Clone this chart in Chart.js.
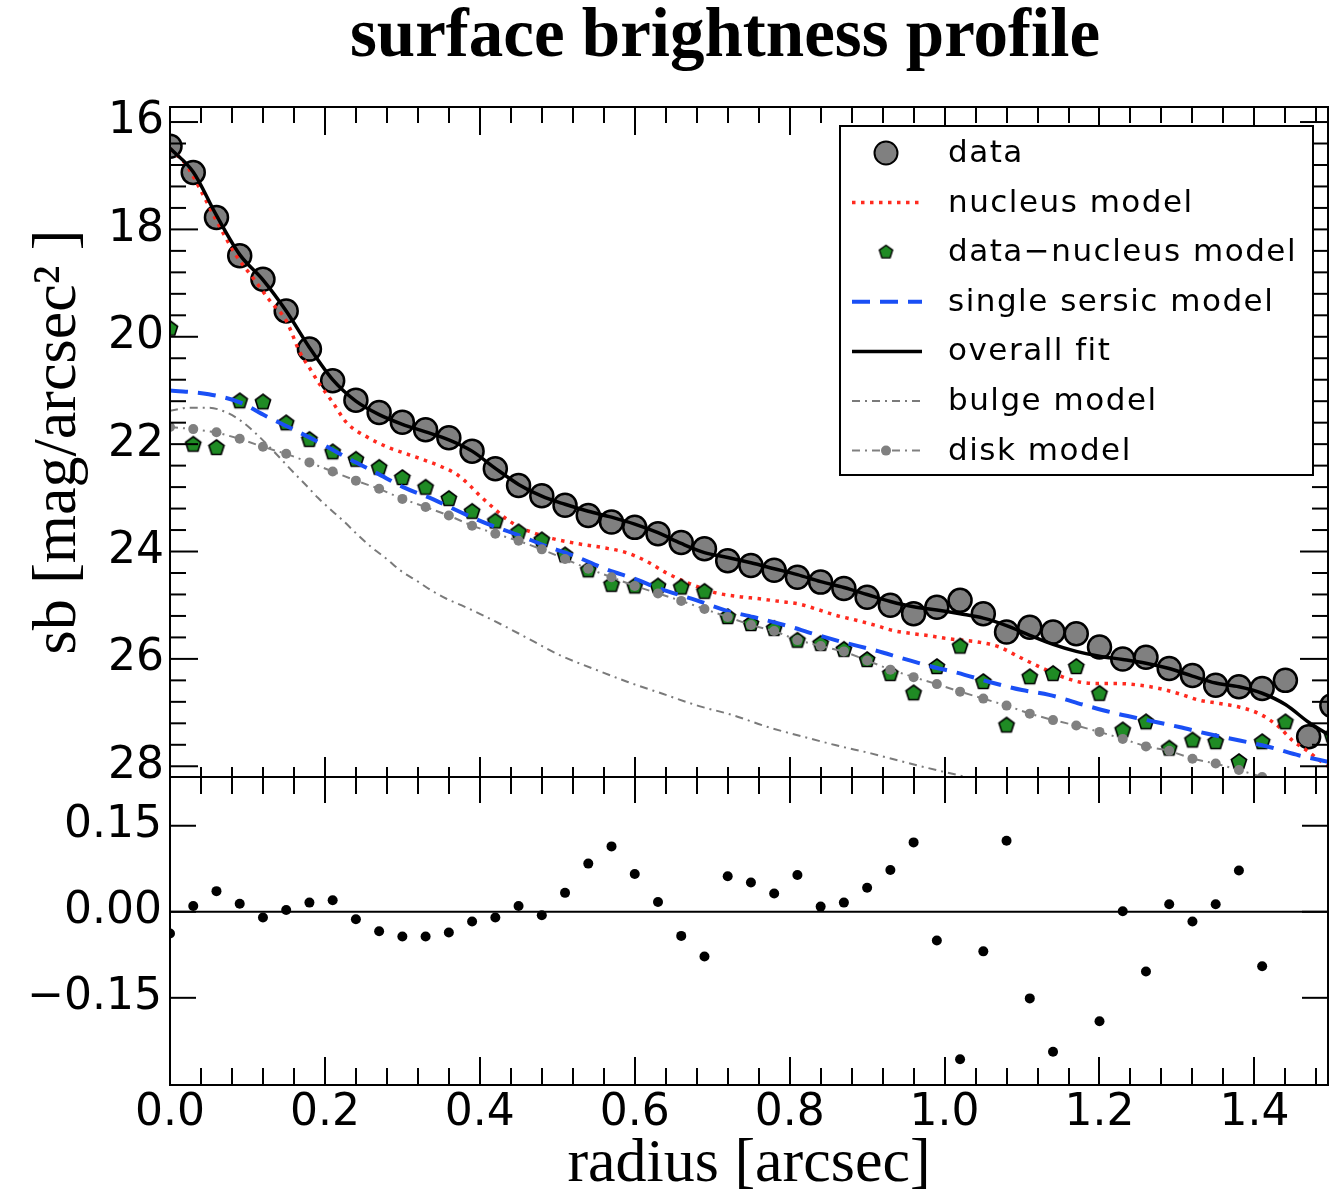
<!DOCTYPE html>
<html>
<head>
<meta charset="utf-8">
<title>surface brightness profile</title>
<script src="https://cdn.jsdelivr.net/npm/chart.js@4.4.1/dist/chart.umd.min.js"></script>
<style>
  html, body { margin: 0; padding: 0; background: #ffffff; }
  canvas { display: block; }
</style>
</head>
<body>
<canvas id="sbProfile" width="1342" height="1202"></canvas>
<script>
// ---- text ----
const chartTitle = 'surface brightness profile';
const xAxisTitle = 'radius [arcsec]';
const yAxisTitle = 'sb [mag/arcsec\u00B2 ]';

// ---- tick values and labels ----
const radiusTickValues = [0.0, 0.2, 0.4, 0.6, 0.8, 1.0, 1.2, 1.4];
const radiusTickLabels = ['0.0', '0.2', '0.4', '0.6', '0.8', '1.0', '1.2', '1.4'];
const sbTickValues = [16, 18, 20, 22, 24, 26, 28];
const sbTickLabels = ['16', '18', '20', '22', '24', '26', '28'];
const residualTickValues = [0.15, 0.0, -0.15];
const residualTickLabels = ['0.15', '0.00', '\u22120.15'];

// ---- measured profile (isophote radii in arcsec, sb in mag/arcsec^2) ----
const radius = [0.00, 0.03, 0.06, 0.09, 0.12, 0.15, 0.18, 0.21, 0.24, 0.27,
                0.30, 0.33, 0.36, 0.39, 0.42, 0.45, 0.48, 0.51, 0.54, 0.57,
                0.60, 0.63, 0.66, 0.69, 0.72, 0.75, 0.78, 0.81, 0.84, 0.87,
                0.90, 0.93, 0.96, 0.99, 1.02, 1.05, 1.08, 1.11, 1.14, 1.17,
                1.20, 1.23, 1.26, 1.29, 1.32, 1.35, 1.38, 1.41, 1.44, 1.47, 1.50];

const sbData = [16.45, 16.94, 17.78, 18.49, 18.93, 19.52, 20.23, 20.82, 21.18, 21.41,
                21.59, 21.73, 21.88, 22.13, 22.46, 22.77, 22.96, 23.14, 23.33, 23.45,
                23.55, 23.67, 23.83, 23.95, 24.17, 24.26, 24.35, 24.48, 24.57, 24.69,
                24.85, 25.00, 25.16, 25.04, 24.91, 25.16, 25.50, 25.41, 25.50, 25.53,
                25.78, 26.00, 25.97, 26.18, 26.31, 26.49, 26.52, 26.55, 26.40, 27.45, 26.87];

const sbDataMinusNucleus = [19.85, 22.01, 22.07, 21.20, 21.22, 21.61, 21.92, 22.15, 22.29, 22.44,
                            22.63, 22.81, 23.02, 23.26, 23.44, 23.64, 23.79, 24.07, 24.35, 24.62,
                            24.65, 24.65, 24.67, 24.75, 25.22, 25.35, 25.44, 25.66, 25.72, 25.83,
                            26.02, 26.28, 26.64, 26.15, 25.77, 26.43, 27.24, 26.34, 26.28, 26.15,
                            26.65, 27.33, 27.18, 27.67, 27.52, 27.55, 27.92, 27.55, 27.18, null, 27.43];

const sbOverallFit = [16.49, 16.93, 17.74, 18.47, 18.94, 19.52, 20.20, 20.80, 21.20, 21.45,
                      21.63, 21.77, 21.92, 22.13, 22.45, 22.75, 22.97, 23.12, 23.25, 23.36,
                      23.49, 23.65, 23.85, 24.02, 24.11, 24.21, 24.32, 24.43, 24.56, 24.67,
                      24.80, 24.93, 25.03, 25.09, 25.16, 25.24, 25.38, 25.56, 25.73, 25.86,
                      25.95, 26.01, 26.08, 26.18, 26.32, 26.45, 26.52, 26.64, 26.85, 27.18, 27.45];

const sbDisk = [21.68, 21.72, 21.78, 21.90, 22.05, 22.18, 22.34, 22.51, 22.68, 22.83,
                23.02, 23.17, 23.33, 23.52, 23.67, 23.80, 23.96, 24.14, 24.32, 24.48,
                24.64, 24.78, 24.92, 25.07, 25.22, 25.37, 25.48, 25.65, 25.76, 25.86,
                26.03, 26.20, 26.34, 26.47, 26.61, 26.74, 26.87, 27.02, 27.14, 27.24,
                27.36, 27.49, 27.63, 27.71, 27.86, 27.95, 28.07, 28.20];

// data minus overall fit (mag)
const residual = [-0.038, 0.010, 0.036, 0.014, -0.010, 0.003, 0.016, 0.020, -0.013, -0.034,
                  -0.043, -0.043, -0.036, -0.017, -0.010, 0.010, -0.006, 0.033, 0.084, 0.114,
                  0.066, 0.017, -0.042, -0.078, 0.062, 0.051, 0.032, 0.064, 0.009, 0.016,
                  0.042, 0.073, 0.121, -0.050, -0.257, -0.069, 0.124, -0.151, -0.244, null,
                  -0.191, 0.001, -0.104, 0.013, -0.017, 0.013, 0.072, -0.095, null, null, null];
const residualZero = 0;

// ---- model curves sampled on their own radii ----
const nucleusRadius = [0.000, 0.020, 0.037, 0.060, 0.086, 0.107, 0.129, 0.150, 0.168, 0.181,
                       0.193, 0.210, 0.228, 0.256, 0.280, 0.305, 0.331, 0.352, 0.370, 0.387,
                       0.400, 0.417, 0.434, 0.452, 0.473, 0.494, 0.529, 0.560, 0.589, 0.615,
                       0.641, 0.671, 0.705, 0.735, 0.761, 0.787, 0.813, 0.834, 0.860, 0.886,
                       0.912, 0.933, 0.959, 0.981, 1.002, 1.045, 1.071, 1.097, 1.123, 1.148,
                       1.174, 1.200, 1.226, 1.252, 1.277, 1.303, 1.329, 1.355, 1.381, 1.406,
                       1.432, 1.449, 1.467, 1.484, 1.500];
const nucleusSb = [16.50, 16.78, 17.20, 17.84, 18.50, 18.90, 19.33, 19.70, 20.30, 20.60,
                   20.88, 21.22, 21.60, 21.88, 22.05, 22.18, 22.31, 22.43, 22.56, 22.77,
                   22.96, 23.18, 23.39, 23.55, 23.67, 23.76, 23.86, 23.93, 24.02, 24.18,
                   24.40, 24.60, 24.77, 24.84, 24.88, 24.93, 24.98, 25.07, 25.19, 25.28,
                   25.38, 25.47, 25.53, 25.57, 25.62, 25.69, 25.78, 25.97, 26.15, 26.31,
                   26.43, 26.46, 26.46, 26.49, 26.55, 26.65, 26.77, 26.83, 26.90, 27.02,
                   27.27, 27.52, 27.70, 27.89, 28.05];

const sersicRadius = [0.000, 0.050, 0.090, 0.123, 0.157, 0.194, 0.232, 0.267, 0.301, 0.340,
                      0.374, 0.409, 0.447, 0.486, 0.520, 0.563, 0.602, 0.632, 0.680, 0.718,
                      0.753, 0.796, 0.830, 0.869, 0.910, 0.948, 0.985, 1.017, 1.058, 1.100,
                      1.135, 1.183, 1.222, 1.261, 1.303, 1.338, 1.381, 1.419, 1.458, 1.500];
const sersicSb = [21.00, 21.07, 21.22, 21.47, 21.71, 21.98, 22.28, 22.54, 22.80, 23.03,
                  23.26, 23.48, 23.68, 23.90, 24.07, 24.33, 24.52, 24.69, 24.91, 25.10,
                  25.22, 25.38, 25.53, 25.69, 25.84, 26.00, 26.15, 26.26, 26.43, 26.58,
                  26.67, 26.87, 27.02, 27.14, 27.27, 27.39, 27.52, 27.64, 27.80, 27.93];

const bulgeRadius = [0.000, 0.026, 0.050, 0.073, 0.092, 0.110, 0.135, 0.159, 0.176, 0.191,
                     0.209, 0.226, 0.243, 0.260, 0.280, 0.297, 0.318, 0.338, 0.357, 0.376,
                     0.400, 0.440, 0.470, 0.503, 0.546, 0.591, 0.636, 0.681, 0.727, 0.772,
                     0.815, 0.860, 0.905, 0.953, 0.998, 1.050];
const bulgeSb = [21.38, 21.32, 21.32, 21.41, 21.57, 21.79, 22.15, 22.52, 22.77, 23.00,
                 23.24, 23.46, 23.70, 23.92, 24.14, 24.35, 24.54, 24.73, 24.88, 25.00,
                 25.16, 25.45, 25.68, 25.93, 26.18, 26.43, 26.65, 26.87, 27.05, 27.27,
                 27.44, 27.61, 27.76, 27.94, 28.10, 28.27];

// ---- helpers ----
function pairs(xs, ys) {
  return ys.map((y, i) => ({ x: xs[i], y: y }));
}

function pentagonMarker(r, fill, edge, lw) {
  const size = Math.ceil(2 * r + 2 * lw + 2);
  const c = document.createElement('canvas');
  c.width = size; c.height = size;
  const g = c.getContext('2d');
  const cx = size / 2, cy = size / 2;
  g.beginPath();
  for (let i = 0; i < 5; i++) {
    const a = -Math.PI / 2 + i * 2 * Math.PI / 5;
    g.lineTo(cx + r * Math.cos(a), cy + r * Math.sin(a));
  }
  g.closePath();
  g.fillStyle = fill; g.fill();
  g.lineWidth = lw; g.strokeStyle = edge; g.stroke();
  return c;
}

const GREEN = '#1f8b24';
const pentagonPlot = pentagonMarker(8, GREEN, '#000', 1.6);
const pentagonLegend = pentagonMarker(7, GREEN, '#000', 1.4);

function tickLabel(values, labels) {
  return (v) => {
    const i = values.findIndex(t => Math.abs(t - v) < 1e-9);
    return i >= 0 ? labels[i] : '';
  };
}

// ---- plugins ----
// keep each dataset inside its own panel
const panelClip = {
  id: 'panelClip',
  beforeDatasetDraw(chart, args) {
    const ys = chart.scales[args.meta.yAxisID];
    const xs = chart.scales.x;
    const ctx = chart.ctx;
    ctx.save();
    ctx.beginPath();
    ctx.rect(xs.left, ys.top, xs.right - xs.left, ys.bottom - ys.top);
    ctx.clip();
  },
  afterDatasetDraw(chart) {
    chart.ctx.restore();
  }
};

// panel frames with inward ticks on all four sides
const panelFrame = {
  id: 'panelFrame',
  afterDatasetsDraw(chart) {
    const { ctx } = chart;
    const x = chart.scales.x;
    const panels = [
      { s: chart.scales.ySb, top: [28, 16], bottom: [20, 10], side: [28, 16],
        major: sbTickValues, minorStep: 0.4 },
      { s: chart.scales.yRes, top: [26, 17], bottom: [28, 17], side: [26, 0],
        major: residualTickValues, minorStep: 0 }
    ];
    ctx.save();
    ctx.strokeStyle = '#000';
    ctx.lineWidth = 2;
    ctx.lineCap = 'butt';
    const L = x.left, R = x.right;
    const line = (x0, y0, x1, y1) => { ctx.beginPath(); ctx.moveTo(x0, y0); ctx.lineTo(x1, y1); ctx.stroke(); };

    panels.forEach(p => {
      const T = p.s.top, B = p.s.bottom;
      // horizontal axis ticks (majors every 0.2, minors every 0.04)
      for (let i = 0; i * 0.04 <= x.max + 1e-9; i++) {
        const v = i * 0.04;
        const isMajor = Math.abs(v / 0.2 - Math.round(v / 0.2)) < 1e-6;
        const px = Math.round(x.getPixelForValue(v));
        line(px, T, px, T + (isMajor ? p.top[0] : p.top[1]));
        line(px, B, px, B - (isMajor ? p.bottom[0] : p.bottom[1]));
      }
      // vertical axis ticks
      p.major.forEach(v => {
        const py = p.s.getPixelForValue(v);
        line(L, py, L + p.side[0], py);
        line(R, py, R - p.side[0], py);
      });
      if (p.minorStep > 0) {
        const lo = Math.min(p.s.min, p.s.max), hi = Math.max(p.s.min, p.s.max);
        const first = Math.ceil(lo / p.minorStep - 1e-9);
        for (let k = first; k * p.minorStep <= hi + 1e-9; k++) {
          const v = k * p.minorStep;
          if (p.major.some(m => Math.abs(m - v) < 1e-6)) continue;
          const py = p.s.getPixelForValue(v);
          line(L, py, L + p.side[1], py);
          line(R, py, R - p.side[1], py);
        }
      }
      ctx.strokeRect(L, T, R - L, B - T);
    });
    ctx.restore();
  }
};

// framed legend in the upper right of the profile panel
const legendBox = {
  id: 'legendBox',
  afterDraw(chart) {
    const { ctx } = chart;
    const x = chart.scales.x, y = chart.scales.ySb;
    const w = 473, h = 349;
    const right = x.right - 15, top = y.top + 19, left = right - w;
    ctx.save();
    ctx.fillStyle = '#fff';
    ctx.fillRect(left, top, w, h);
    ctx.lineWidth = 2;
    ctx.strokeStyle = '#000';
    ctx.strokeRect(left, top, w, h);
    const items = chart.data.datasets.filter(d => d.inLegend);
    items.forEach((ds, i) => {
      const cy = top + 27 + i * 49.6;
      const x0 = left + 12, x1 = left + 82, cx = left + 46;
      if (ds.showLine !== false) {
        ctx.beginPath();
        ctx.setLineDash(ds.borderDash || []);
        ctx.lineWidth = ds.borderWidth;
        ctx.strokeStyle = ds.borderColor;
        ctx.moveTo(x0, cy); ctx.lineTo(x1, cy);
        ctx.stroke();
        ctx.setLineDash([]);
      }
      if (ds.legendMarker) {
        const m = ds.legendMarker;
        ctx.drawImage(m, cx - m.width / 2, cy - m.height / 2);
      } else if (ds.pointRadius > 0) {
        ctx.fillStyle = ds.pointBackgroundColor;
        ctx.strokeStyle = ds.pointBorderColor;
        Chart.helpers.drawPoint(ctx, {
          pointStyle: 'circle', rotation: 0,
          radius: ds.pointRadius, borderWidth: ds.pointBorderWidth
        }, cx, cy);
      }
      ctx.fillStyle = '#000';
      ctx.font = '31px "DejaVu Sans"';
      ctx.letterSpacing = '1.5px';
      ctx.textAlign = 'left';
      ctx.textBaseline = 'middle';
      ctx.fillText(ds.label, left + 108, cy + 1);
      ctx.letterSpacing = '0px';
    });
    ctx.restore();
  }
};

// figure title
const figureTitle = {
  id: 'figureTitle',
  afterDraw(chart) {
    const { ctx } = chart;
    ctx.save();
    ctx.fillStyle = '#000';
    ctx.font = 'bold 69px "Liberation Serif"';
    ctx.textAlign = 'center';
    ctx.textBaseline = 'alphabetic';
    ctx.fillText(chartTitle, 725, 56);
    ctx.restore();
  }
};

// ---- chart ----
const tickFont = { family: "'DejaVu Sans', sans-serif", size: 44 };
const titleFont = { family: "'Liberation Serif', serif", size: 62, lineHeight: 1.2 };

new Chart(document.getElementById('sbProfile'), {
  type: 'line',
  data: {
    datasets: [
      { label: 'data', inLegend: true, yAxisID: 'ySb', order: 7,
        data: pairs(radius, sbData), showLine: false,
        pointStyle: 'circle', pointRadius: 11.5,
        pointBackgroundColor: '#808080', pointBorderColor: '#000', pointBorderWidth: 2.5 },
      { label: 'nucleus model', inLegend: true, yAxisID: 'ySb', order: 6,
        data: pairs(nucleusRadius, nucleusSb),
        borderColor: '#ff2a1f', borderWidth: 3.5, borderDash: [3.5, 5.5],
        pointRadius: 0, cubicInterpolationMode: 'monotone' },
      { label: 'data\u2212nucleus model', inLegend: true, yAxisID: 'ySb', order: 5,
        data: pairs(radius, sbDataMinusNucleus), showLine: false,
        pointStyle: pentagonPlot, pointRadius: 8, legendMarker: pentagonLegend },
      { label: 'single sersic model', inLegend: true, yAxisID: 'ySb', order: 4,
        data: pairs(sersicRadius, sersicSb),
        borderColor: '#1a4ff5', borderWidth: 4, borderDash: [18, 10],
        pointRadius: 0, cubicInterpolationMode: 'monotone' },
      { label: 'overall fit', inLegend: true, yAxisID: 'ySb', order: 3,
        data: pairs(radius, sbOverallFit),
        borderColor: '#000', borderWidth: 3.5,
        pointRadius: 0, cubicInterpolationMode: 'monotone' },
      { label: 'bulge model', inLegend: true, yAxisID: 'ySb', order: 2,
        data: pairs(bulgeRadius, bulgeSb),
        borderColor: '#7a7a7a', borderWidth: 2, borderDash: [8, 5, 2, 5],
        pointRadius: 0, cubicInterpolationMode: 'monotone' },
      { label: 'disk model', inLegend: true, yAxisID: 'ySb', order: 1,
        data: pairs(radius, sbDisk),
        borderColor: '#808080', borderWidth: 2, borderDash: [8, 5, 2, 5],
        pointRadius: 5, pointBackgroundColor: '#808080',
        pointBorderColor: '#808080', pointBorderWidth: 0 },
      { label: 'residual', yAxisID: 'yRes', order: 0,
        data: pairs(radius, residual), showLine: false,
        pointRadius: 5, pointBackgroundColor: '#000', pointBorderWidth: 0 },
      { label: 'zero level', yAxisID: 'yRes', order: 0,
        data: [{ x: radius[0], y: residualZero }, { x: radius[radius.length - 1], y: residualZero }],
        borderColor: '#000', borderWidth: 2, pointRadius: 0 }
    ]
  },
  options: {
    responsive: false,
    animation: false,
    devicePixelRatio: 1,
    events: [],
    layout: { padding: { top: 107, right: 14, bottom: 0, left: 0 } },
    plugins: {
      legend: { display: false },
      tooltip: { enabled: false },
      title: { display: false }
    },
    scales: {
      x: {
        type: 'linear', position: 'bottom', min: 0, max: 1.495,
        afterBuildTicks: s => { s.ticks = radiusTickValues.map(v => ({ value: v })); },
        afterFit: s => { s.height = 117; },
        ticks: { callback: tickLabel(radiusTickValues, radiusTickLabels),
                 font: tickFont, color: '#000', padding: 2, maxRotation: 0, autoSkip: false },
        grid: { display: false, drawTicks: false },
        border: { display: false },
        title: { display: true, text: xAxisTitle, font: titleFont, color: '#000',
                 padding: { top: 0, bottom: 0 } }
      },
      yRes: {
        type: 'linear', position: 'left', stack: 'panels', stackWeight: 308,
        min: -0.302, max: 0.235,
        afterBuildTicks: s => { s.ticks = residualTickValues.map(v => ({ value: v })); },
        afterFit: s => { s.width = 170; },
        ticks: { callback: tickLabel(residualTickValues, residualTickLabels),
                 font: tickFont, color: '#000', padding: 8 },
        grid: { display: false, drawTicks: false },
        border: { display: false }
      },
      ySb: {
        type: 'linear', position: 'left', stack: 'panels', stackWeight: 670,
        reverse: true, min: 15.72, max: 28.2,
        afterBuildTicks: s => { s.ticks = sbTickValues.map(v => ({ value: v })); },
        afterFit: s => { s.width = 170; },
        ticks: { callback: tickLabel(sbTickValues, sbTickLabels),
                 font: tickFont, color: '#000', padding: 6 },
        grid: { display: false, drawTicks: false },
        border: { display: false },
        title: { display: true, text: yAxisTitle, font: titleFont, color: '#000',
                 padding: { top: 22, bottom: 0 } }
      }
    }
  },
  plugins: [panelClip, panelFrame, legendBox, figureTitle]
});
</script>
</body>
</html>
